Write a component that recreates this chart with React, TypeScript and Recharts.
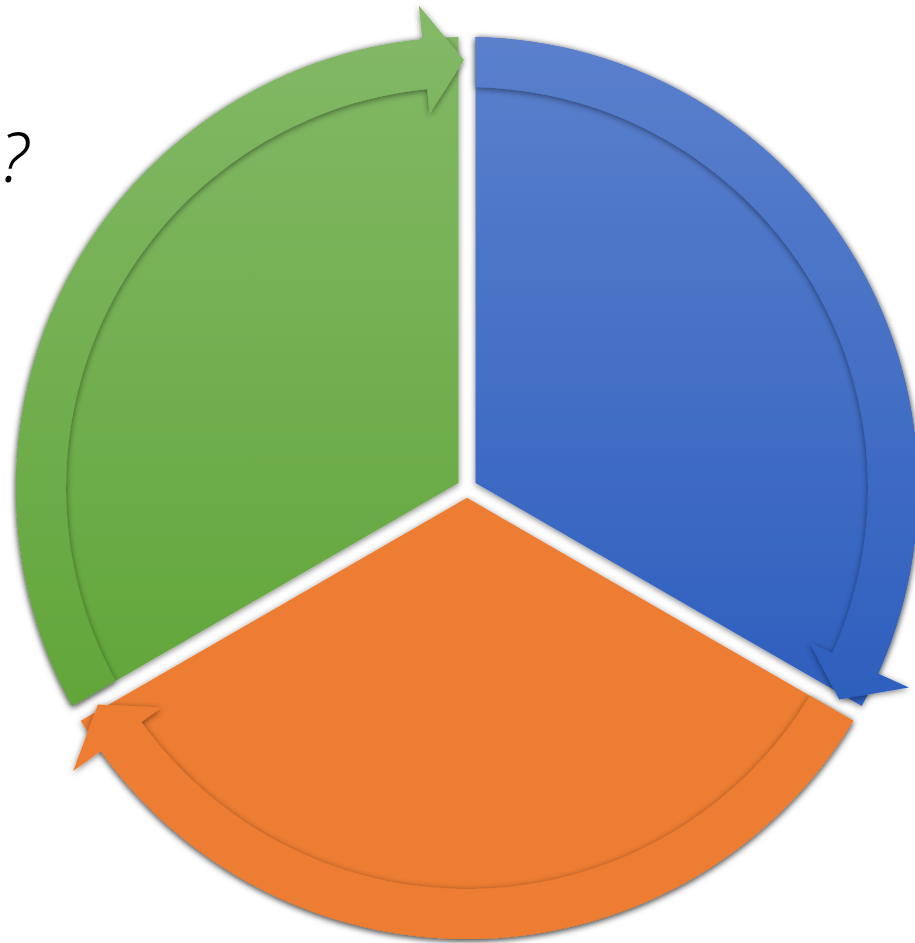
import { Cell, Pie, PieChart } from 'recharts';

const stages = ['Stage 1', 'Stage 2', 'Stage 3'];
const shares = [1, 1, 1];
const fills = ['url(#cycleBlue)', '#ED7D31', 'url(#cycleGreen)'];

const data = stages.map((name, i) => ({ name, value: shares[i] }));

const GAP = 8.5; // half width of the white gap between slices
const BAND = 50; // thickness of the arrow band
const RAD = Math.PI / 180;

const at = (cx: number, cy: number, r: number, a: number) =>
  `${(cx + r * Math.cos(a * RAD)).toFixed(2)},${(cy - r * Math.sin(a * RAD)).toFixed(2)}`;
const inset = (r: number) => Math.asin(GAP / r) / RAD;

function renderSlice(props: any) {
  const { cx, cy, outerRadius, startAngle, endAngle, fill } = props;
  const hi = Math.max(startAngle, endAngle);
  const lo = Math.min(startAngle, endAngle);
  const half = (hi - lo) / 2;
  const v = GAP / Math.sin(half * RAD);
  const r = outerRadius;
  const large = hi - lo - 2 * inset(r) > 180 ? 1 : 0;
  const d = `M${at(cx, cy, v, lo + half)} L${at(cx, cy, r, hi - inset(r))} A${r},${r} 0 ${large} 1 ${at(cx, cy, r, lo + inset(r))} Z`;
  return <path d={d} fill={fill} filter="url(#cycleShadow)" />;
}

function renderArrow(props: any) {
  const { cx, cy, outerRadius, startAngle, endAngle, index } = props;
  const hi = Math.max(startAngle, endAngle);
  const lo = Math.min(startAngle, endAngle);
  const ro = outerRadius;
  const ri = outerRadius - BAND;
  const tip = lo + 0.4;
  const base = lo + 5.7;
  const large = hi - inset(ro) - base > 180 ? 1 : 0;
  const d = [
    `M${at(cx, cy, ro, hi - inset(ro))}`,
    `A${ro},${ro} 0 ${large} 1 ${at(cx, cy, ro, base)}`,
    `L${at(cx, cy, ro + 34, base)}`,
    `L${at(cx, cy, ro - 23, tip)}`,
    `L${at(cx, cy, ri - 25, base)}`,
    `L${at(cx, cy, ri, base)}`,
    `A${ri},${ri} 0 ${large} 0 ${at(cx, cy, ri, hi - inset(ri))}`,
    'Z',
  ].join(' ');
  return <path key={`arrow-${index}`} d={d} fill={fills[index]} filter="url(#cycleShadow)" />;
}

export default function App() {
  return (
    <div style={{ position: 'absolute', left: 0, top: 0, width: 915, height: 943 }}>
      <svg width={915} height={943} style={{ position: 'absolute', left: 0, top: 0 }}>
        <defs>
          <linearGradient id="cycleBlue" gradientUnits="userSpaceOnUse" x1="0" y1="36" x2="0" y2="700">
            <stop offset="0" stopColor="#5B80CC" />
            <stop offset="1" stopColor="#2E5FBE" />
          </linearGradient>
          <linearGradient id="cycleGreen" gradientUnits="userSpaceOnUse" x1="0" y1="36" x2="0" y2="700">
            <stop offset="0" stopColor="#82B866" />
            <stop offset="1" stopColor="#62A63A" />
          </linearGradient>
          <filter id="cycleShadow" x="-20%" y="-20%" width="140%" height="140%">
            <feDropShadow dx="0" dy="1.5" stdDeviation="3" floodColor="#000" floodOpacity="0.5" />
          </filter>
        </defs>
        <text
          x={0}
          y={182}
          fontFamily="'Noto Sans', sans-serif"
          fontStyle="italic"
          fontWeight={300}
          fontSize={68}
          fill="#000"
        >
          ?
        </text>
      </svg>
      <PieChart
        width={915}
        height={943}
        margin={{ top: 0, right: 0, bottom: 0, left: 0 }}
        style={{ position: 'absolute', left: 0, top: 0 }}
      >
        <Pie
          data={data}
          dataKey="value"
          nameKey="name"
          cx={467}
          cy={488}
          innerRadius={0}
          outerRadius={451}
          startAngle={90}
          endAngle={-270}
          stroke="none"
          shape={renderSlice}
          label={renderArrow}
          labelLine={false}
          isAnimationActive={false}
        >
          {data.map((entry, index) => (
            <Cell key={entry.name} fill={fills[index]} />
          ))}
        </Pie>
      </PieChart>
    </div>
  );
}
